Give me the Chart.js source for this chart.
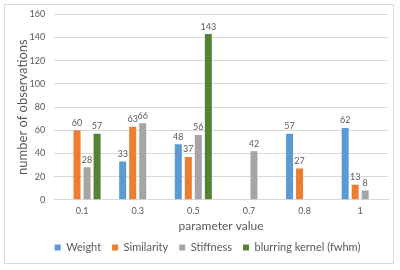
<!DOCTYPE html>
<html>
<head>
<meta charset="utf-8">
<script src="https://cdn.jsdelivr.net/npm/chart.js@4"></script>
<style>
  body { margin: 0; background: #fff; }
  #marco { position: absolute; left: 4px; top: 4px; width: 388px; height: 258px; border: 1px solid #d9d9d9; }
  #caja { position: absolute; left: 0; top: 0; width: 400px; height: 270px; }
</style>
</head>
<body>
<div id="marco"></div>
<div id="caja"><canvas id="grafica"></canvas></div>
<script>
const categorias = ["0.1", "0.3", "0.5", "0.7", "0.8", "1"];
const peso = [null, 33, 48, null, 57, 62];
const similitud = [60, 63, 37, null, 27, 13];
const rigidez = [28, 66, 56, 42, null, 8];
const difuminado = [57, null, 143, null, null, null];
const ticksY = [0, 20, 40, 60, 80, 100, 120, 140, 160];

const fuente = "Lato, 'Open Sans', sans-serif";

// etiquetas con el valor encima de cada barra
const etiquetasValores = {
  id: "etiquetasValores",
  afterDatasetsDraw(chart) {
    const ctx = chart.ctx;
    ctx.save();
    ctx.font = "9px " + fuente;
    ctx.fillStyle = "#595959";
    ctx.textAlign = "center";
    ctx.textBaseline = "bottom";
    chart.data.datasets.forEach((ds, i) => {
      const meta = chart.getDatasetMeta(i);
      meta.data.forEach((bar, j) => {
        const v = ds.data[j];
        if (v === null || v === undefined) return;
        ctx.fillText(String(v), bar.x, bar.y - 3);
      });
    });
    ctx.restore();
  }
};

// la leyenda va centrada bajo el área del gráfico, no del lienzo
const moverLeyenda = {
  id: "moverLeyenda",
  afterLayout(chart) {
    chart.legend.left += 9;
    chart.legend.right += 9;
  }
};

const $grafica = document.querySelector("#grafica");

new Chart($grafica, {
  type: "bar",
  data: {
    labels: categorias,
    datasets: [
      { label: "Weight", data: peso, backgroundColor: "#5B9BD5" },
      { label: "Similarity", data: similitud, backgroundColor: "#ED7D31" },
      { label: "Stiffness", data: rigidez, backgroundColor: "#A5A5A5" },
      { label: "blurring kernel (fwhm)", data: difuminado, backgroundColor: "#548235" },
    ],
  },
  options: {
    responsive: true,
    maintainAspectRatio: false,
    animation: false,
    datasets: {
      bar: { categoryPercentage: 0.72, barPercentage: 0.7 },
    },
    layout: { padding: { top: 8, right: 12, left: 9, bottom: 7 } },
    scales: {
      x: {
        grid: { display: false, drawTicks: false },
        border: { color: "#d9d9d9" },
        ticks: { color: "#595959", font: { family: fuente, size: 9 }, padding: 6 },
        title: { display: true, text: "parameter value", color: "#595959", font: { family: fuente, size: 12 }, padding: { top: -4, bottom: -2 } },
      },
      y: {
        min: 0,
        max: 160,
        afterBuildTicks: (axis) => { axis.ticks = ticksY.map((v) => ({ value: v })); },
        grid: { color: "#d9d9d9", drawTicks: false },
        border: { display: false },
        ticks: { color: "#595959", font: { family: fuente, size: 9 }, padding: 9 },
        title: { display: true, text: "number of observations", color: "#595959", font: { family: fuente, size: 13 }, padding: { top: 6, bottom: -10 } },
      },
    },
    plugins: {
      legend: {
        display: true,
        position: "bottom",
        labels: {
          boxWidth: 6,
          boxHeight: 6,
          padding: 11,
          color: "#595959",
          font: { family: fuente, size: 11 },
        },
      },
      tooltip: { enabled: false },
    },
  },
  plugins: [etiquetasValores, moverLeyenda],
});
</script>
</body>
</html>
